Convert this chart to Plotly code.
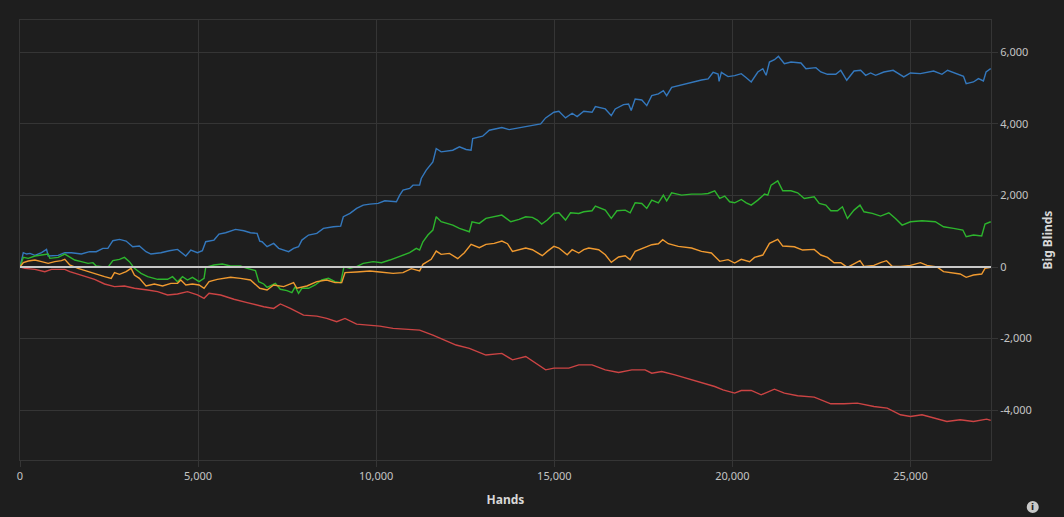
import plotly.graph_objects as go

# ---------------- data ----------------
blue_hands = [0, 93, 186, 279, 419, 605, 745, 791, 1071, 1257, 1443, 1722, 1955, 2141, 2327, 2467, 2607, 2793, 2979, 3165,
              3352, 3538, 3677, 3957, 4190, 4422, 4655, 4795, 4981, 5120, 5214, 5446, 5586, 5772, 6051, 6284, 6470, 6657, 6731,
              6796, 6936, 7122, 7262, 7402, 7541, 7681, 7820, 7914, 8100, 8332, 8519, 8798, 9002, 9077, 9264, 9450, 9636, 9822,
              10055, 10241, 10567, 10660, 10753, 10939, 11033, 11219, 11265, 11405, 11591, 11685, 11824, 12150, 12337, 12523,
              12663, 12709, 12988, 13175, 13361, 13529, 13732, 14012, 14384, 14617, 14757, 14989, 15129, 15315, 15501, 15641,
              15827, 16060, 16153, 16432, 16600, 16711, 16944, 17084, 17159, 17270, 17457, 17596, 17736, 17922, 18062, 18155,
              18295, 18574, 18853, 19133, 19319, 19459, 19598, 19626, 19691, 19877, 20064, 20249, 20389, 20528, 20714, 20854,
              20947, 21040, 21180, 21292, 21459, 21645, 21925, 22064, 22344, 22483, 22670, 22902, 23042, 23210, 23415, 23601,
              23741, 23880, 24020, 24253, 24513, 24672, 24812, 24998, 25278, 25650, 25883, 26041, 26255, 26488, 26563, 26768,
              26907, 27047, 27121, 27252]
blue_bb = [0, 400, 363, 381, 326, 400, 493, 307, 326, 400, 400, 363, 428, 428, 521, 521, 735, 772, 725, 567,
           586, 428, 363, 400, 456, 493, 307, 474, 400, 456, 707, 753, 921, 958, 1051, 1014, 958, 939, 725,
           707, 567, 660, 521, 474, 428, 521, 567, 753, 893, 939, 1079, 1126, 1144, 1405, 1498, 1637, 1730, 1758,
           1777, 1851, 1823, 2009, 2149, 2195, 2288, 2288, 2474, 2707, 2939, 3312, 3219, 3265, 3358, 3284,
           3265, 3591, 3656, 3823, 3870, 3900, 3841, 3888, 3953, 3999, 4167, 4325, 4353, 4167, 4297, 4204,
           4353, 4325, 4483, 4418, 4232, 4418, 4539, 4558, 4372, 4697, 4669, 4511, 4790, 4837, 4930, 4790,
           5023, 5097, 5163, 5228, 5256, 5442, 5395, 5190, 5442, 5321, 5349, 5403, 5292, 5172, 5451, 5544,
           5358, 5730, 5795, 5888, 5684, 5730, 5702, 5544, 5572, 5451, 5386, 5386, 5498, 5219, 5479, 5498,
           5358, 5423, 5358, 5451, 5498, 5386, 5312, 5423, 5405, 5479, 5386, 5498, 5423, 5330, 5126, 5172,
           5265, 5200, 5451, 5544]

green_hands = [0, 93, 233, 419, 605, 791, 838, 1071, 1257, 1397, 1536, 1722, 1909, 2048, 2141, 2467, 2607, 2793, 2933,
               3072, 3212, 3398, 3584, 3864, 4143, 4283, 4422, 4562, 4702, 4841, 5027, 5167, 5214, 5446, 5679, 5912, 6191,
               6377, 6610, 6703, 6843, 6936, 7169, 7308, 7495, 7634, 7727, 7820, 7914, 8100, 8286, 8472, 8658, 8845, 9003,
               9096, 9263, 9450, 9636, 9915, 10148, 10381, 10660, 10939, 11126, 11219, 11312, 11451, 11591, 11684, 11824,
               12150, 12336, 12615, 12690, 12894, 13080, 13360, 13527, 13779, 14012, 14198, 14384, 14524, 14645, 14803,
               14989, 15129, 15315, 15455, 15687, 15827, 16060, 16153, 16432, 16600, 16758, 16991, 17130, 17270, 17456,
               17596, 17736, 17922, 18062, 18155, 18294, 18573, 18853, 19132, 19318, 19504, 19644, 19784, 19923, 20063,
               20249, 20389, 20528, 20714, 20901, 20994, 21087, 21273, 21413, 21645, 21832, 22018, 22297, 22437, 22623,
               22763, 22949, 23089, 23228, 23415, 23582, 23694, 23927, 24159, 24392, 24578, 24765, 24998, 25323, 25696,
               25928, 26208, 26469, 26563, 26768, 26999, 27092, 27252]
green_bb = [0, 270, 242, 307, 335, 363, 242, 270, 363, 288, 195, 149, 102, 121, 28, -9, 177, 214, 270,
            149, -37, -177, -270, -344, -344, -270, -409, -270, -363, -288, -409, -316, -9, 56, 84, 28, 28,
            -37, -102, -409, -474, -567, -456, -623, -660, -716, -549, -735, -595, -595, -502, -363, -316, -409, -437,
            9, -37, 9, 102, 149, 121, 195, 288, 400, 521, 474, 707, 893, 1033, 1405, 1265,
            1172, 1079, 986, 1265, 1219, 1358, 1405, 1451, 1265, 1330, 1405, 1386, 1312, 1200, 1312,
            1498, 1516, 1312, 1516, 1498, 1544, 1572, 1702, 1591, 1358, 1572, 1591, 1516, 1795, 1777,
            1637, 1870, 1795, 2009, 1851, 2074, 2009, 2037, 2037, 2056, 2130, 1916, 1981, 1823, 1795,
            1888, 1795, 1730, 1870, 2037, 2009, 2288, 2409, 2130, 2130, 2074, 1916, 1963, 1777, 1730,
            1572, 1572, 1684, 1358, 1591, 1730, 1544, 1498, 1423, 1516, 1358, 1172, 1265, 1293, 1265,
            1126, 1079, 1033, 847, 893, 865, 1200, 1265]

orange_hands = [0, 93, 233, 419, 605, 791, 977, 1164, 1257, 1397, 1629, 1909, 2188, 2374, 2560, 2653, 2793, 2979, 3119,
                3212, 3352, 3538, 3771, 4003, 4236, 4422, 4515, 4655, 4841, 5027, 5167, 5307, 5539, 5912, 6191, 6470,
                6731, 6936, 7122, 7402, 7681, 7774, 8053, 8332, 8612, 8845, 9031, 9124, 9450, 9822, 10101, 10474, 10753,
                10986, 11219, 11312, 11544, 11685, 11824, 12056, 12289, 12476, 12663, 12895, 13082, 13313, 13529, 13686,
                13825, 14012, 14198, 14384, 14663, 14803, 14989, 15129, 15362, 15501, 15687, 15827, 15967, 16246, 16432,
                16600, 16805, 16991, 17130, 17270, 17549, 17736, 17922, 18043, 18201, 18481, 18853, 19132, 19411, 19644,
                19877, 20063, 20249, 20482, 20622, 20854, 21041, 21273, 21413, 21739, 21971, 22297, 22483, 22670, 22856,
                23042, 23228, 23415, 23582, 23694, 23973, 24159, 24327, 24485, 24718, 24998, 25278, 25463, 25742, 25928,
                26208, 26394, 26563, 26768, 26999, 27092, 27252]
orange_bb = [0, 121, 167, 195, 149, 102, 149, 177, 214, 56, -37, -130, -223, -270, -316, -158, -205, -130, -37,
             -223, -316, -530, -474, -530, -456, -456, -363, -502, -474, -502, -595, -409, -344, -288, -316, -363,
             -595, -642, -502, -549, -437, -595, -530, -409, -363, -437, -437, -158, -140, -112, -140, -177, -158,
             -46, -112, 74, 214, 446, 353, 381, 233, 400, 632, 539, 632, 660, 725, 651,
             437, 484, 530, 484, 316, 437, 577, 530, 344, 484, 391, 484, 530, 484, 344,
             130, 279, 316, 205, 437, 558, 623, 651, 763, 651, 577, 530, 437, 391, 158,
             205, 112, 214, 149, 270, 335, 660, 772, 586, 567, 474, 493, 335, 270, 121,
             121, -9, 84, 177, 19, 46, 121, 177, 19, 19, 46, 121, 46, 0, -130,
             -158, -195, -288, -223, -195, -37, -9]

red_hands = [0, 140, 419, 698, 884, 1257, 1397, 1722, 2095, 2374, 2653, 2933, 3212, 3584, 3864, 4143, 4422, 4702, 4981,
             5167, 5307, 5633, 6005, 6377, 6750, 6843, 7122, 7309, 7588, 7960, 8332, 8612, 8891, 9124, 9450, 9822,
             10101, 10474, 10846, 11219, 11591, 11870, 12243, 12615, 13080, 13527, 13825, 14198, 14477, 14757, 14989,
             15408, 15687, 16060, 16432, 16805, 17177, 17549, 17736, 18015, 18387, 18853, 19225, 19504, 19737, 20063,
             20249, 20528, 20808, 21180, 21459, 21832, 22297, 22763, 23135, 23508, 23973, 24346, 24718, 24998, 25323,
             25649, 26021, 26394, 26768, 27139, 27252]
red_bb = [0, -37, -65, -130, -65, -65, -130, -223, -344, -474, -549, -530, -595, -642, -688, -781, -753, -688, -781,
          -874, -735, -781, -902, -995, -1088, -1112, -1158, -1033, -1158, -1344, -1372, -1437, -1530, -1437, -1595, -1623,
          -1651, -1716, -1744, -1763, -1902, -2023, -2181, -2274, -2460, -2414, -2595, -2502, -2688, -2874, -2827,
          -2827, -2734, -2734, -2874, -2948, -2874, -2874, -2967, -2920, -3013, -3153, -3246, -3339, -3432, -3525,
          -3451, -3451, -3572, -3414, -3525, -3600, -3637, -3823, -3823, -3805, -3898, -3944, -4130, -4177, -4130,
          -4223, -4316, -4270, -4316, -4251, -4288]

x_ticks = [0, 5000, 10000, 15000, 20000, 25000]
x_tick_labels = ["0", "5,000", "10,000", "15,000", "20,000", "25,000"]
y_ticks = [-4000, -2000, 0, 2000, 4000, 6000]
y_tick_labels = ["-4,000", "-2,000", "0", "2,000", "4,000", "6,000"]

BG = "#1e1e1e"
GRID = "#353535"
TICKFONT = dict(family="Noto Sans, Open Sans, sans-serif", size=11, color="#c4c4c4")

fig = go.Figure()
series = [
    (blue_hands, blue_bb, "#3478bd"),
    (green_hands, green_bb, "#2db52d"),
    (orange_hands, orange_bb, "#f09a30"),
    (red_hands, red_bb, "#cc4444"),
]
for xs, ys, col in series:
    fig.add_trace(go.Scatter(x=xs, y=ys, mode="lines", line=dict(color=col, width=1.4),
                             showlegend=False, hoverinfo="skip"))

fig.update_layout(
    width=1064, height=517,
    margin=dict(l=20, r=67, t=20, b=57),
    paper_bgcolor=BG, plot_bgcolor=BG,
    showlegend=False,
    xaxis=dict(
        range=[0, 27260], tickvals=x_ticks, ticktext=x_tick_labels,
        showgrid=True, gridcolor=GRID, gridwidth=1,
        showline=True, linecolor=GRID, linewidth=1, mirror=True,
        ticks="outside", ticklen=6, tickcolor=GRID,
        zeroline=False, tickfont=TICKFONT,
        title=dict(text="<b>Hands</b>", font=dict(family="Noto Sans, sans-serif", size=12, color="#d8d8d8"), standoff=13),
    ),
    yaxis=dict(
        side="right", range=[-5394, 6904], tickvals=y_ticks, ticktext=y_tick_labels,
        showgrid=True, gridcolor=GRID, gridwidth=1,
        showline=True, linecolor=GRID, linewidth=1, mirror=True,
        ticks="outside", ticklen=6, tickcolor=GRID,
        zeroline=False, tickfont=TICKFONT,
        title=dict(text="<b>Big Blinds</b>", font=dict(family="Noto Sans, sans-serif", size=12, color="#d8d8d8"), standoff=12),
    ),
    shapes=[
        dict(type="line", xref="paper", yref="y", x0=0, x1=1, y0=0, y1=0,
             line=dict(color="#c8c8c8", width=2), layer="above"),
        dict(type="circle", xref="paper", yref="paper", xsizemode="pixel", ysizemode="pixel",
             xanchor=1.043, yanchor=-0.107, x0=-6, x1=6, y0=-6, y1=6,
             fillcolor="#c8c8c8", line=dict(width=0)),
    ],
    annotations=[
        dict(text="<b>i</b>", xref="paper", yref="paper", x=1.043, y=-0.107, showarrow=False,
             font=dict(family="DejaVu Sans", size=9, color="#1e1e1e"), xanchor="center", yanchor="middle"),
    ],
)

fig.write_html(
    "out.html",
    config={"displayModeBar": False},
    post_script="document.body.style.margin='0';document.body.style.padding='0';"
                "document.body.style.background='#1e1e1e';document.body.style.overflow='hidden';",
)
